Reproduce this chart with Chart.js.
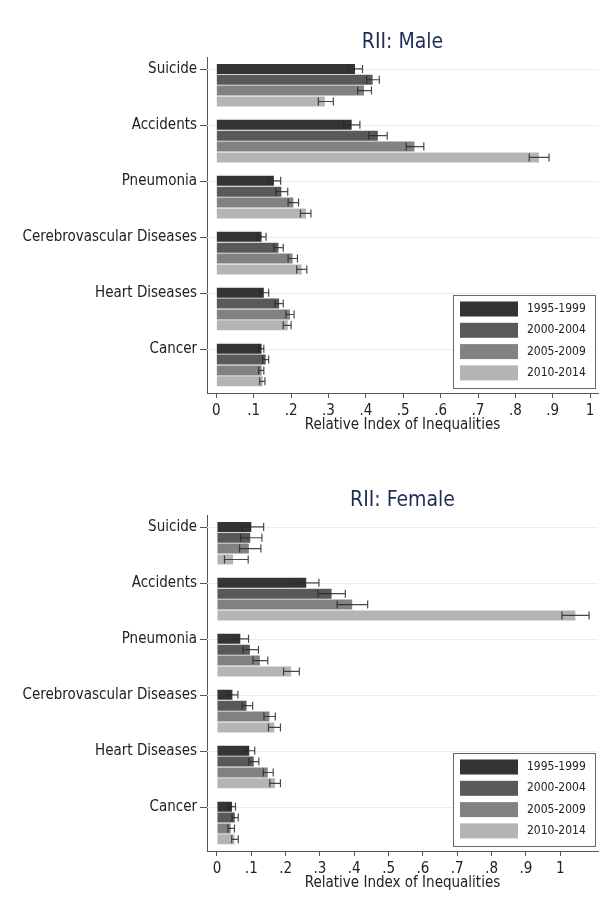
<!DOCTYPE html>
<html>
<head>
<meta charset="utf-8">
<script src="https://cdn.jsdelivr.net/npm/chart.js@4.4.1/dist/chart.umd.min.js"></script>
<style>
  html, body { margin: 0; padding: 0; background: #fff; overflow: hidden; }
  .box { position: absolute; left: 0; width: 610px; height: 458px; }
</style>
</head>
<body>
<div class="box" style="top:0"><canvas id="male" width="610" height="458"></canvas></div>
<div class="box" style="top:458px"><canvas id="female" width="610" height="458"></canvas></div>
<script>
const categories = ['Suicide', 'Accidents', 'Pneumonia', 'Cerebrovascular Diseases', 'Heart Diseases', 'Cancer'];
const periods = ['1995-1999', '2000-2004', '2005-2009', '2010-2014'];
const xTickValues = [0, 0.1, 0.2, 0.3, 0.4, 0.5, 0.6, 0.7, 0.8, 0.9, 1];
const xTickLabels = ['0', '.1', '.2', '.3', '.4', '.5', '.6', '.7', '.8', '.9', '1'];

// male RII and 95% CI, one array per period
const male1995 = [0.371, 0.362, 0.154, 0.121, 0.127, 0.121];
const male1995Lo = [0.353, 0.340, 0.139, 0.109, 0.116, 0.113];
const male1995Hi = [0.391, 0.384, 0.172, 0.133, 0.140, 0.127];
const male2000 = [0.418, 0.432, 0.174, 0.166, 0.168, 0.132];
const male2000Lo = [0.402, 0.408, 0.159, 0.154, 0.157, 0.124];
const male2000Hi = [0.436, 0.457, 0.191, 0.179, 0.179, 0.140];
const male2005 = [0.395, 0.530, 0.206, 0.204, 0.197, 0.121];
const male2005Lo = [0.378, 0.508, 0.192, 0.192, 0.186, 0.113];
const male2005Hi = [0.415, 0.555, 0.220, 0.217, 0.208, 0.127];
const male2010 = [0.290, 0.863, 0.240, 0.228, 0.191, 0.124];
const male2010Lo = [0.273, 0.837, 0.225, 0.215, 0.179, 0.116];
const male2010Hi = [0.313, 0.890, 0.253, 0.242, 0.200, 0.130];

// female
const female1995 = [0.100, 0.260, 0.068, 0.045, 0.094, 0.044];
const female1995Lo = [0.073, 0.231, 0.049, 0.032, 0.082, 0.035];
const female1995Hi = [0.136, 0.297, 0.092, 0.061, 0.110, 0.054];
const female2000 = [0.097, 0.334, 0.096, 0.086, 0.107, 0.052];
const female2000Lo = [0.069, 0.294, 0.076, 0.073, 0.093, 0.044];
const female2000Hi = [0.131, 0.374, 0.121, 0.104, 0.122, 0.062];
const female2005 = [0.093, 0.394, 0.125, 0.153, 0.148, 0.040];
const female2005Lo = [0.066, 0.350, 0.105, 0.137, 0.135, 0.032];
const female2005Hi = [0.128, 0.439, 0.148, 0.170, 0.164, 0.051];
const female2010 = [0.047, 1.044, 0.216, 0.167, 0.169, 0.051];
const female2010Lo = [0.022, 1.005, 0.194, 0.150, 0.154, 0.043];
const female2010Hi = [0.091, 1.084, 0.240, 0.185, 0.185, 0.062];

const barColors = ['#343434', '#595959', '#828282', '#b4b4b4'];
const FONT = "'DejaVu Sans Condensed', 'DejaVu Sans', sans-serif";
const CAT_PCT = 0.777;
const BAR_PCT = 0.92;

Chart.defaults.font.family = FONT;
Chart.defaults.color = '#222';

// shift of the category label from group centre to the first bar
function labelShift(scale) {
  return (scale.height / categories.length) * CAT_PCT / periods.length * 1.5;
}

const catLines = {
  id: 'catLines',
  beforeDatasetsDraw(chart) {
    const ctx = chart.ctx, y = chart.scales.y, a = chart.chartArea;
    const sh = labelShift(y);
    ctx.save();
    categories.forEach((c, i) => {
      const py = Math.round(y.getPixelForTick(i) - sh) + 0.5;
      ctx.strokeStyle = '#ececec';
      ctx.lineWidth = 1;
      ctx.beginPath(); ctx.moveTo(a.left, py); ctx.lineTo(a.right, py); ctx.stroke();
      ctx.strokeStyle = '#555';
      ctx.beginPath(); ctx.moveTo(a.left - 7, py); ctx.lineTo(a.left, py); ctx.stroke();
    });
    ctx.restore();
  }
};

const errorBars = {
  id: 'errorBars',
  afterDatasetsDraw(chart) {
    const ctx = chart.ctx, x = chart.scales.x;
    ctx.save();
    ctx.strokeStyle = 'rgba(40,40,40,0.85)';
    ctx.lineWidth = 1.2;
    chart.data.datasets.forEach((ds, di) => {
      chart.getDatasetMeta(di).data.forEach((bar, i) => {
        const x1 = x.getPixelForValue(ds.lo[i]), x2 = x.getPixelForValue(ds.hi[i]);
        const h = bar.height * 0.4;
        ctx.beginPath();
        ctx.moveTo(x1, bar.y); ctx.lineTo(x2, bar.y);
        ctx.moveTo(x1, bar.y - h); ctx.lineTo(x1, bar.y + h);
        ctx.moveTo(x2, bar.y - h); ctx.lineTo(x2, bar.y + h);
        ctx.stroke();
      });
    });
    ctx.restore();
  }
};

const boxLegend = {
  id: 'boxLegend',
  afterDraw(chart) {
    const ctx = chart.ctx, a = chart.chartArea;
    const w = 142, h = 93;
    const left = a.right - 3 - w, top = a.bottom - 5 - h;
    ctx.save();
    ctx.fillStyle = '#fff';
    ctx.fillRect(left, top, w, h);
    ctx.strokeStyle = '#666';
    ctx.lineWidth = 1;
    ctx.strokeRect(Math.round(left) + 0.5, Math.round(top) + 0.5, w, h);
    ctx.font = '12px ' + FONT;
    ctx.textBaseline = 'middle';
    chart.data.datasets.forEach((ds, i) => {
      const cy = top + 14 + i * 21.3;
      ctx.fillStyle = ds.backgroundColor;
      ctx.fillRect(left + 7, cy - 7.5, 58, 15);
      ctx.fillStyle = '#222';
      ctx.fillText(ds.label, left + 74, cy);
    });
    ctx.restore();
  }
};

function makeChart(id, title, series, xMin, xMax) {
  new Chart(document.getElementById(id), {
    type: 'bar',
    data: {
      labels: categories,
      datasets: series.map((s, i) => ({
        label: periods[i],
        data: s[0],
        lo: s[1],
        hi: s[2],
        backgroundColor: barColors[i],
        borderWidth: 0,
        categoryPercentage: CAT_PCT,
        barPercentage: BAR_PCT
      }))
    },
    options: {
      indexAxis: 'y',
      responsive: false,
      animation: false,
      layout: { padding: { left: 0, right: 12, top: 0, bottom: 0 } },
      plugins: {
        legend: { display: false },
        tooltip: { enabled: false },
        title: {
          display: true,
          text: title,
          fullSize: false,
          color: '#1f2c58',
          font: { size: 21, weight: 'normal', lineHeight: 1.2 },
          padding: { top: 30, bottom: 2 }
        }
      },
      scales: {
        x: {
          type: 'linear',
          min: xMin,
          max: xMax,
          afterBuildTicks(scale) { scale.ticks = xTickValues.map(v => ({ value: v })); },
          afterFit(scale) { scale.height = 65; },
          ticks: {
            callback: (v, i) => xTickLabels[i],
            font: { size: 15 },
            color: '#222',
            padding: 4,
            maxRotation: 0,
            autoSkip: false
          },
          grid: { drawOnChartArea: false, drawTicks: true, tickLength: 5, color: '#555' },
          border: { color: '#555' },
          title: {
            display: true,
            text: 'Relative Index of Inequalities',
            font: { size: 15, lineHeight: 1.2 },
            color: '#222',
            padding: { top: 0, bottom: 24 }
          }
        },
        y: {
          afterFit(scale) { scale.width = 207; },
          ticks: {
            font: { size: 15 },
            color: '#222',
            padding: 3,
            labelOffset: -16
          },
          grid: { drawOnChartArea: false, drawTicks: true, tickLength: 7, color: 'rgba(0,0,0,0)' },
          border: { color: '#555' }
        }
      }
    },
    plugins: [catLines, errorBars, boxLegend]
  });
}

makeChart('male', 'RII: Male', [
  [male1995, male1995Lo, male1995Hi],
  [male2000, male2000Lo, male2000Hi],
  [male2005, male2005Lo, male2005Hi],
  [male2010, male2010Lo, male2010Hi]
], -0.025, 1.021);

makeChart('female', 'RII: Female', [
  [female1995, female1995Lo, female1995Hi],
  [female2000, female2000Lo, female2000Hi],
  [female2005, female2005Lo, female2005Hi],
  [female2010, female2010Lo, female2010Hi]
], -0.029, 1.11);
</script>
</body>
</html>
